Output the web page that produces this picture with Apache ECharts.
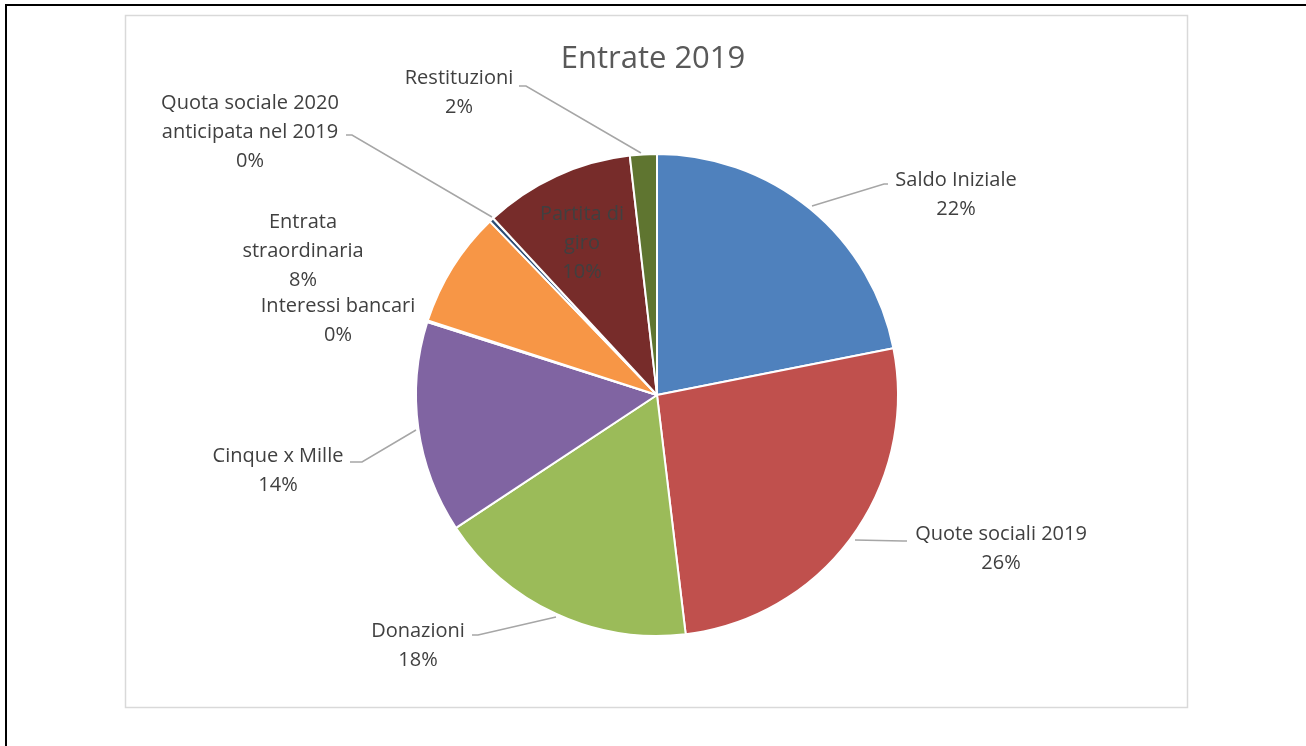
<!DOCTYPE html>
<html>
<head>
<meta charset="utf-8">
<script src="https://cdn.jsdelivr.net/npm/echarts@6/dist/echarts.min.js"></script>
<style>
  html, body { margin: 0; padding: 0; background: #ffffff; }
  #chart { width: 1306px; height: 746px; }
</style>
</head>
<body>
<div id="chart"></div>
<script>
// ---- data ----
const categories = [
  'Saldo Iniziale',
  'Quote sociali 2019',
  'Donazioni',
  'Cinque x Mille',
  'Interessi bancari',
  'Entrata straordinaria',
  'Quota sociale 2020 anticipata nel 2019',
  'Partita di giro',
  'Restituzioni'
];
// share of total (percent)
const values = [21.9, 26.2, 17.6, 14.2, 0.1, 7.8, 0.3, 10.1, 1.8];
// how each category name wraps in its label
const labelNames = [
  'Saldo Iniziale',
  'Quote sociali 2019',
  'Donazioni',
  'Cinque x Mille',
  'Interessi bancari',
  'Entrata\nstraordinaria',
  'Quota sociale 2020\nanticipata nel 2019',
  'Partita di\ngiro',
  'Restituzioni'
];
const titleText = 'Entrate 2019';

// ---- styles / layout ----
const colors = ['#4f81bd', '#c0504d', '#9bbb59', '#8064a2', '#4bacc6', '#f79646', '#2c4d75', '#772c2a', '#5f7530'];
const showLine = [true, true, true, true, false, false, true, false, true];
const labelPos = [
  [956, 195], [1001, 549], [418, 646], [278, 471], [338, 321],
  [303, 251], [250, 132], [582, 243], [459, 93]
];
const linePts = [
  [[812, 206], [884, 184], [888, 184]],
  [[855, 540], [903, 541], [907, 541]],
  [[556, 617], [478, 635], [472, 635]],
  [[416, 430], [362, 462], [350, 462]],
  null,
  null,
  [[492, 217], [352, 135], [346, 135]],
  null,
  [[641, 153], [526, 86], [519, 86]]
];

const FONT = '"Open Sans", "Liberation Sans", sans-serif';

const chart = echarts.init(document.getElementById('chart'), null, { renderer: 'canvas' });

const pieData = categories.map((c, i) => ({
  name: c,
  value: values[i],
  itemStyle: { color: colors[i] },
  labelLine: { show: showLine[i] }
}));

chart.setOption({
  backgroundColor: '#ffffff',
  animation: false,
  graphic: [
    { type: 'rect', shape: { x: 6, y: 5, width: 1400, height: 900 },
      style: { fill: 'none', stroke: '#000000', lineWidth: 2 }, z: 0 },
    { type: 'rect', shape: { x: 125.5, y: 15.5, width: 1062, height: 692 },
      style: { fill: 'none', stroke: '#d9d9d9', lineWidth: 1.5 }, z: 0 }
  ],
  title: {
    text: titleText,
    left: 'center',
    top: 39,
    textStyle: { fontFamily: FONT, fontSize: 31, fontWeight: 'normal', color: '#595959' }
  },
  series: [{
    type: 'pie',
    center: [657, 395],
    radius: 241,
    startAngle: 90,
    clockwise: true,
    avoidLabelOverlap: false,
    itemStyle: { borderColor: '#ffffff', borderWidth: 2 },
    label: {
      show: true,
      position: 'outside',
      fontFamily: FONT,
      fontSize: 20,
      lineHeight: 29,
      color: '#404040',
      align: 'center',
      formatter: p => labelNames[p.dataIndex] + '\n' + Math.round(p.percent) + '%'
    },
    labelLine: {
      show: true,
      lineStyle: { color: '#a6a6a6', width: 1.5 }
    },
    labelLayout: function (params) {
      const i = params.dataIndex;
      const r = { x: labelPos[i][0], y: labelPos[i][1], align: 'center', verticalAlign: 'middle' };
      if (linePts[i]) r.labelLinePoints = linePts[i];
      return r;
    },
    data: pieData
  }]
});
</script>
</body>
</html>
